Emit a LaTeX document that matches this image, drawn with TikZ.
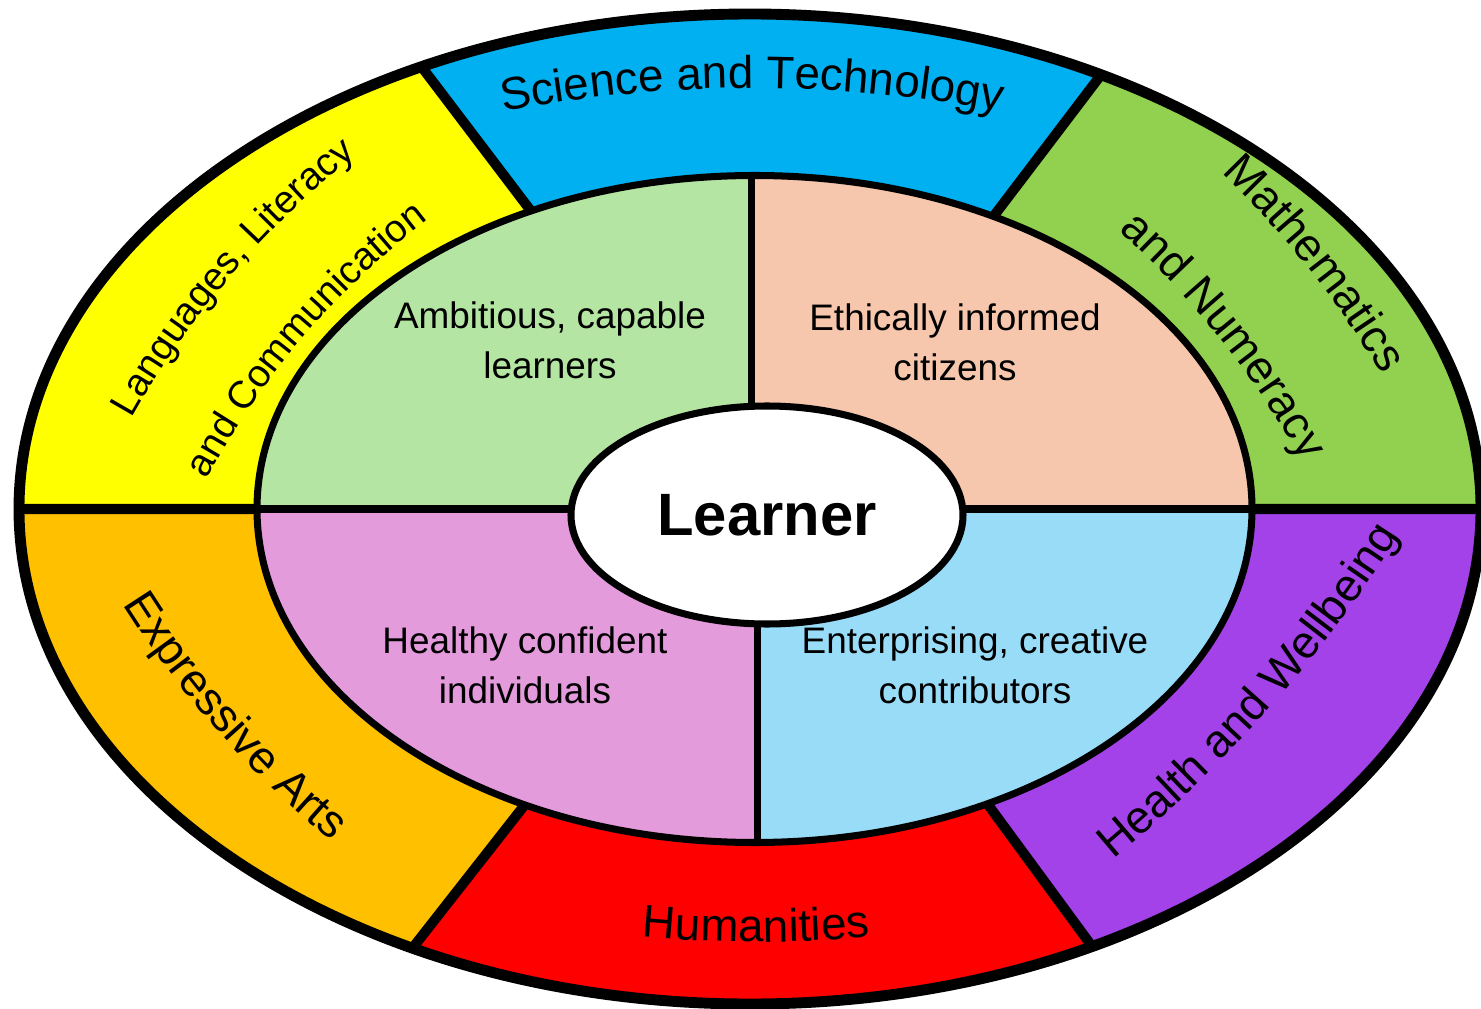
\documentclass[tikz,border=0pt]{standalone}
\usepackage{fontspec}
\setmainfont{Liberation Sans}
\usepackage{tikz}
\usetikzlibrary{calc,shapes.geometric,decorations.text}

\definecolor{langyellow}{HTML}{FFFF00}
\definecolor{sciblue}{HTML}{00B0F0}
\definecolor{mathgreen}{HTML}{92D050}
\definecolor{healthpurple}{HTML}{A342E8}
\definecolor{humred}{HTML}{FF0000}
\definecolor{artsorange}{HTML}{FFC000}
\definecolor{ambgreen}{HTML}{B5E5A2}
\definecolor{ethpeach}{HTML}{F6C6AD}
\definecolor{entblue}{HTML}{99DCF8}
\definecolor{hcpink}{HTML}{E39BDB}

\newcommand\ringfont{\fontsize{26}{30}\selectfont}
\newcommand\langfont{\fontsize{22}{26}\selectfont}
\newcommand\quadfont{\fontsize{21}{28.3}\selectfont}
\newcommand\learnerfont{\fontsize{34}{40}\selectfont\bfseries}

\tikzset{
  outer arc/.style={x radius=731, y radius=495},
  mid arc/.style={x radius=497.5, y radius=333.5},
  ring line/.style={line width=5.7pt},
  thin line/.style={line width=4pt},
  quadtext/.style={align=center, font=\quadfont, inner sep=0pt},
  ringtext/.style={decorate, decoration={text along path, text align=center, text={#1}}}
}

\begin{document}
\begin{tikzpicture}[x=0.2mm, y=0.2mm]
	\useasboundingbox (0,0) rectangle (1481,1008);

	% centres
	\coordinate (oc) at (750,499);
	\coordinate (mc) at (754.5,499);

	% divider ends on the outer and middle ellipses
	\coordinate (oL) at ([shift={(oc)}]180:731 and 495);
	\coordinate (oR) at ([shift={(oc)}]0:731 and 495);
	\coordinate (oTL) at ([shift={(oc)}]116.7:731 and 495);
	\coordinate (oTR) at ([shift={(oc)}]61.3:731 and 495);
	\coordinate (oBL) at ([shift={(oc)}]242.5:731 and 495);
	\coordinate (oBR) at ([shift={(oc)}]297.9:731 and 495);
	\coordinate (mL) at ([shift={(mc)}]180:497.5 and 333.5);
	\coordinate (mR) at ([shift={(mc)}]0:497.5 and 333.5);
	\coordinate (mT) at ([shift={(mc)}]90.3:497.5 and 333.5);
	\coordinate (mB) at ([shift={(mc)}]270.3:497.5 and 333.5);
	\coordinate (mTL) at ([shift={(mc)}]116.7:497.5 and 333.5);
	\coordinate (mTR) at ([shift={(mc)}]61.3:497.5 and 333.5);
	\coordinate (mBL) at ([shift={(mc)}]242.5:497.5 and 333.5);
	\coordinate (mBR) at ([shift={(mc)}]297.9:497.5 and 333.5);

	% outer ring
	\fill[langyellow] (oL) arc[outer arc, start angle=180, end angle=116.7] -- (mTL) arc[mid arc, start angle=116.7, end angle=180] -- cycle;
	\fill[sciblue] (oTL) arc[outer arc, start angle=116.7, end angle=61.3] -- (mTR) arc[mid arc, start angle=61.3, end angle=116.7] -- cycle;
	\fill[mathgreen] (oTR) arc[outer arc, start angle=61.3, end angle=0] -- (mR) arc[mid arc, start angle=0, end angle=61.3] -- cycle;
	\fill[healthpurple] (oR) arc[outer arc, start angle=360, end angle=297.9] -- (mBR) arc[mid arc, start angle=297.9, end angle=360] -- cycle;
	\fill[humred] (oBR) arc[outer arc, start angle=297.9, end angle=242.5] -- (mBL) arc[mid arc, start angle=242.5, end angle=297.9] -- cycle;
	\fill[artsorange] (oBL) arc[outer arc, start angle=242.5, end angle=180] -- (mL) arc[mid arc, start angle=180, end angle=242.5] -- cycle;

	% middle quarters
	\fill[ambgreen] (mc) -- (mL) arc[mid arc, start angle=180, end angle=90.3] -- cycle;
	\fill[ethpeach] (mc) -- (mT) arc[mid arc, start angle=90.3, end angle=0] -- cycle;
	\fill[entblue] (mc) -- (mR) arc[mid arc, start angle=360, end angle=270.3] -- cycle;
	\fill[hcpink] (mc) -- (mB) arc[mid arc, start angle=270.3, end angle=180] -- cycle;

	% borders
	\draw[line width=6.2pt] (oc) ellipse[outer arc];
	\draw[thin line] (mc) ellipse[mid arc];
	\draw[ring line] (oL) -- (mL) (mR) -- (oR) (oTL) -- (mTL) (oTR) -- (mTR) (oBL) -- (mBL) (oBR) -- (mBR);
	\draw[thin line] (mL) -- (mR) (mT) -- (mT |- mc) (mB) -- (mB |- mc);

	\node[draw, thin line, ellipse, fill=white, minimum width=78.4mm, minimum height=43.6mm, inner sep=0pt, font=\learnerfont] (learner) at (767,493) {Learner};

	\node[quadtext] (ambitious) at (550,668) {Ambitious, capable\\learners};
	\node[quadtext] (ethical) at (955,666) {Ethically informed\\citizens};
	\node[quadtext] (healthy) at (525,343) {Healthy confident\\individuals};
	\node[quadtext] (enterprising) at (975,343) {Enterprising, creative\\contributors};

	% curved labels in the ring
	\coordinate (scic) at (752,-380);
	\coordinate (humc) at (756,1266);
	\coordinate (langc) at (915,150);
	\coordinate (mathc) at (518,111);
	\coordinate (artsc) at (969,937);
	\coordinate (healthc) at (219,1225);

	\path[ringtext={|\ringfont|Science and Technology}] ([shift={(scic)}]115:1300) arc[start angle=115, end angle=65, radius=1300];
	\path[ringtext={|\ringfont|Humanities}] ([shift={(humc)}]255:1200) arc[start angle=255, end angle=285, radius=1200];
	\path[ringtext={|\langfont|Languages, Literacy}] ([shift={(langc)}]164.6:898) arc[start angle=164.6, end angle=114.6, radius=898];
	\path[ringtext={|\langfont|and Communication}] ([shift={(langc)}]164.6:803) arc[start angle=164.6, end angle=114.6, radius=803];
	\path[ringtext={|\ringfont|Mathematics}] ([shift={(mathc)}]58.5:1010) arc[start angle=58.5, end angle=18.5, radius=1010];
	\path[ringtext={|\ringfont|and Numeracy}] ([shift={(mathc)}]58.5:897) arc[start angle=58.5, end angle=18.5, radius=897];
	\path[ringtext={|\ringfont|Expressive Arts}] ([shift={(artsc)}]201.3:1000) arc[start angle=201.3, end angle=241.3, radius=1000];
	\path[ringtext={|\ringfont|Health and Wellbeing}] ([shift={(healthc)}]298.6:1400) arc[start angle=298.6, end angle=338.6, radius=1400];
\end{tikzpicture}
\end{document}
